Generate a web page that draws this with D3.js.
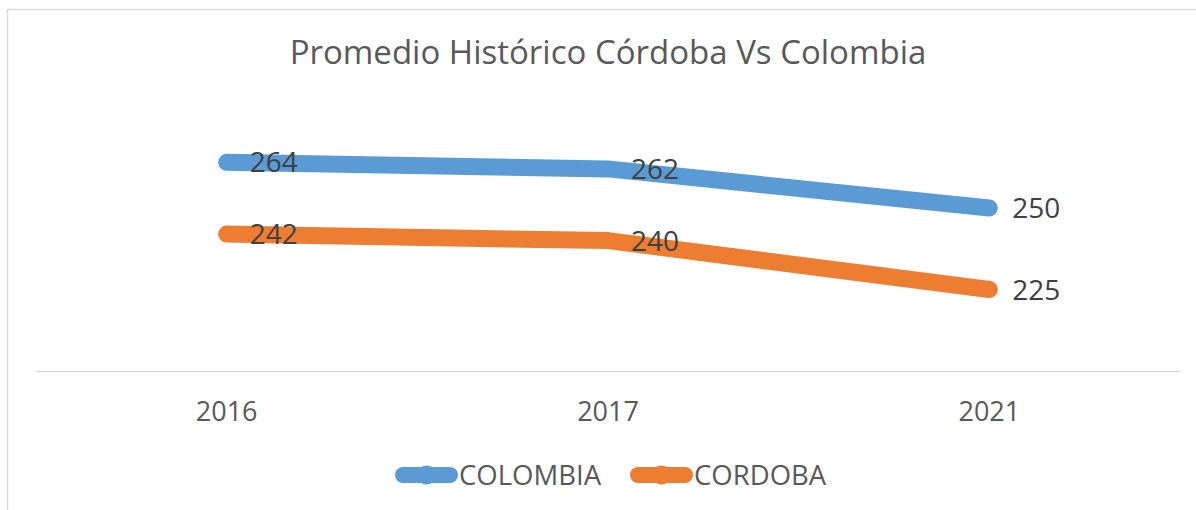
<!DOCTYPE html>
<html>
<head>
<meta charset="utf-8">
<script src="https://cdn.jsdelivr.net/npm/d3@7"></script>
<style>
  body { margin: 0; background: #fff; }
  svg { display: block; font-family: "Open Sans", sans-serif; }
</style>
</head>
<body>
<svg id="chart"></svg>
<script>
// data
var years = ["2016", "2017", "2021"]
var seriesNames = ["COLOMBIA", "CORDOBA"]
var colombia = [264, 262, 250]
var cordoba = [242, 240, 225]
var seriesColors = ["#5B9BD5", "#ED7D31"]

var dimensions = {
  width: 1196,
  height: 510,
  margin: {
    top: 45,
    bottom: 139,
    right: 16,
    left: 36
  }
}

var svg = d3.select("#chart")
  .attr("width", dimensions.width)
  .attr("height", dimensions.height)

// chart border
svg.append("rect")
  .attr("x", 7.5)
  .attr("y", 9.5)
  .attr("width", dimensions.width)
  .attr("height", dimensions.height)
  .attr("fill", "none")
  .attr("stroke", "#d9d9d9")
  .attr("stroke-width", 1.5)

svg.append("text")
  .attr("x", 608)
  .attr("y", 64)
  .attr("text-anchor", "middle")
  .attr("font-size", "33px")
  .attr("fill", "#595959")
  .text("Promedio Histórico Córdoba Vs Colombia")

var xScale = d3.scaleBand()
  .domain(years)
  .range([dimensions.margin.left, dimensions.width - dimensions.margin.right])
  .padding(0)

var yScale = d3.scaleLinear()
  .domain([200, 300])
  .range([dimensions.height - dimensions.margin.bottom, dimensions.margin.top])

var x = d => xScale(d) + xScale.bandwidth() / 2

// axis
var xAxisGen = d3.axisBottom(xScale).tickSize(0).tickPadding(31)
var xAxis = svg.append("g")
  .attr("transform", `translate(0,${yScale(200)})`)
  .call(xAxisGen)
xAxis.select(".domain").attr("stroke", "#d9d9d9").attr("stroke-width", 1.5)
xAxis.selectAll(".tick text")
  .attr("font-size", "27px")
  .attr("font-family", "Open Sans, sans-serif")
  .attr("fill", "#595959")

var series = [colombia, cordoba]

var line = d3.line()
  .x((d, i) => x(years[i]))
  .y(d => yScale(d))

series.forEach(function(values, s) {
  svg.append("path")
    .datum(values)
    .attr("d", line)
    .attr("fill", "none")
    .attr("stroke", seriesColors[s])
    .attr("stroke-width", 17)
    .attr("stroke-linecap", "round")
    .attr("stroke-linejoin", "round")

  svg.append("g")
    .selectAll("text")
    .data(values)
    .enter()
    .append("text")
      .attr("x", (d, i) => x(years[i]) + 23)
      .attr("y", d => yScale(d))
      .attr("dy", "0.36em")
      .attr("font-size", "28px")
      .attr("fill", "#404040")
      .text(d => d)
})

// legend
var legendX = [395, 630]
seriesNames.forEach(function(name, s) {
  var g = svg.append("g").attr("transform", `translate(${legendX[s]},475)`)
  g.append("line")
    .attr("x1", 8).attr("x2", 55)
    .attr("y1", 0).attr("y2", 0)
    .attr("stroke", seriesColors[s])
    .attr("stroke-width", 16)
    .attr("stroke-linecap", "round")
  g.append("circle")
    .attr("cx", 31.5).attr("cy", 0).attr("r", 9.5)
    .attr("fill", seriesColors[s])
  g.append("text")
    .attr("x", 64)
    .attr("y", 0)
    .attr("dy", "0.36em")
    .attr("font-size", "27.5px")
    .attr("fill", "#595959")
    .text(name)
})
</script>
</body>
</html>
